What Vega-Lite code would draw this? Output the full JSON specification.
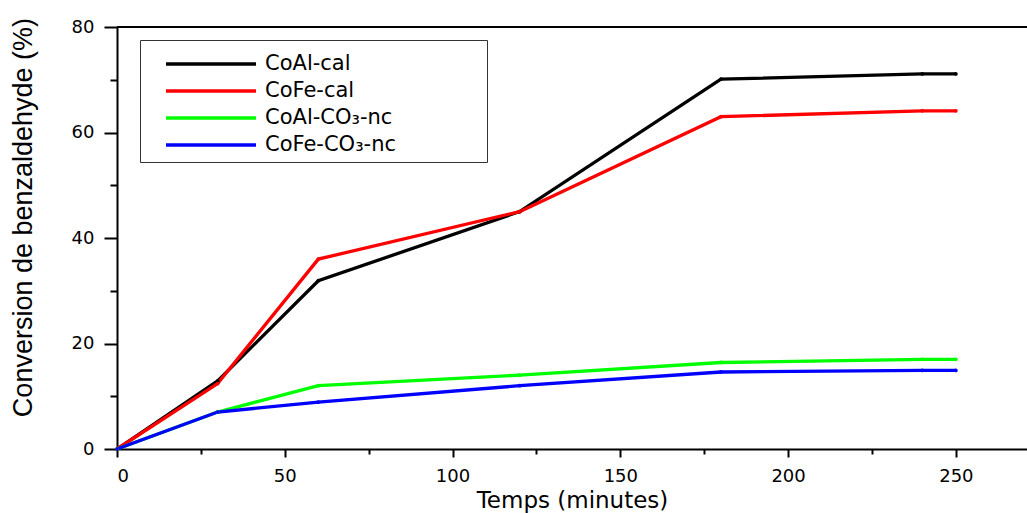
{
  "$schema": "https://vega.github.io/schema/vega-lite/v6.json",
  "autosize": "none",
  "width": 910,
  "height": 422,
  "padding": {"left": 117, "top": 27, "right": 0, "bottom": 64},
  "background": "white",
  "config": {"view": {"stroke": null}, "font": "Liberation Sans"},
  "data": {"values": [
    {"s": "CoAl-cal", "t": 0, "c": 0},
    {"s": "CoAl-cal", "t": 30, "c": 12.9},
    {"s": "CoAl-cal", "t": 60, "c": 31.9},
    {"s": "CoAl-cal", "t": 120, "c": 45},
    {"s": "CoAl-cal", "t": 180, "c": 70.1},
    {"s": "CoAl-cal", "t": 240, "c": 71.1},
    {"s": "CoAl-cal", "t": 250, "c": 71.1},
    {"s": "CoFe-cal", "t": 0, "c": 0},
    {"s": "CoFe-cal", "t": 30, "c": 12.4},
    {"s": "CoFe-cal", "t": 60, "c": 36},
    {"s": "CoFe-cal", "t": 120, "c": 45},
    {"s": "CoFe-cal", "t": 180, "c": 63},
    {"s": "CoFe-cal", "t": 240, "c": 64.1},
    {"s": "CoFe-cal", "t": 250, "c": 64.1},
    {"s": "CoAl-CO₃-nc", "t": 0, "c": 0},
    {"s": "CoAl-CO₃-nc", "t": 30, "c": 7},
    {"s": "CoAl-CO₃-nc", "t": 60, "c": 12},
    {"s": "CoAl-CO₃-nc", "t": 120, "c": 14},
    {"s": "CoAl-CO₃-nc", "t": 180, "c": 16.4},
    {"s": "CoAl-CO₃-nc", "t": 240, "c": 17},
    {"s": "CoAl-CO₃-nc", "t": 250, "c": 17},
    {"s": "CoFe-CO₃-nc", "t": 0, "c": 0},
    {"s": "CoFe-CO₃-nc", "t": 30, "c": 7},
    {"s": "CoFe-CO₃-nc", "t": 60, "c": 8.9},
    {"s": "CoFe-CO₃-nc", "t": 120, "c": 12},
    {"s": "CoFe-CO₃-nc", "t": 180, "c": 14.6},
    {"s": "CoFe-CO₃-nc", "t": 240, "c": 14.9},
    {"s": "CoFe-CO₃-nc", "t": 250, "c": 14.9}
  ]},
  "layer": [
    {
      "mark": {"type": "line", "strokeWidth": 3.3, "point": {"filled": true, "size": 14}},
      "encoding": {
        "x": {
          "field": "t", "type": "quantitative",
          "scale": {"domain": [0, 271.2], "nice": false, "zero": false},
          "axis": {
            "title": "Temps (minutes)",
            "values": [0, 25, 50, 75, 100, 125, 150, 175, 200, 225, 250],
            "labelExpr": "datum.value % 50 === 0 ? datum.label : ''",
            "tickSize": {"condition": {"test": "datum.value % 50 === 0", "value": 8}, "value": 5},
            "labelPadding": 10,
            "grid": false,
            "domainColor": "black", "domainWidth": 2,
            "tickColor": "black", "tickWidth": 2,
            "labelFont": "DejaVu Sans", "labelFontSize": 18, "labelColor": "black",
            "titleFont": "DejaVu Sans", "titleFontSize": 23, "titleFontWeight": "normal", "titleColor": "black",
            "titlePadding": 4
          }
        },
        "y": {
          "field": "c", "type": "quantitative",
          "scale": {"domain": [0, 80], "nice": false},
          "axis": {
            "title": "Conversion de benzaldehyde (%)",
            "values": [0, 10, 20, 30, 40, 50, 60, 70, 80],
            "labelExpr": "datum.value % 20 === 0 ? datum.label : ''",
            "tickSize": {"condition": {"test": "datum.value % 20 === 0", "value": 13}, "value": 7},
            "labelPadding": 10,
            "grid": false,
            "domainColor": "black", "domainWidth": 2,
            "tickColor": "black", "tickWidth": 2,
            "labelFont": "DejaVu Sans", "labelFontSize": 18, "labelColor": "black",
            "titleFont": "Liberation Sans", "titleFontSize": 27, "titleFontWeight": "normal", "titleColor": "black",
            "titlePadding": 34,
            "titleY": 190
          }
        },
        "color": {
          "field": "s", "type": "nominal",
          "scale": {"domain": ["CoAl-cal", "CoFe-cal", "CoAl-CO₃-nc", "CoFe-CO₃-nc"], "range": ["#000000", "#ff0000", "#00ff00", "#0000ff"]},
          "legend": {
            "title": "\u00a0",
            "titleOrient": "right",
            "titleFontSize": 10,
            "titlePadding": 84,
            "orient": "none",
            "legendX": 23,
            "legendY": 13,
            "symbolType": "M-3,0H3",
            "symbolSize": 900,
            "symbolStrokeWidth": 3.3,
            "symbolOffset": 47,
            "labelFont": "DejaVu Sans",
            "labelFontSize": 21,
            "labelColor": "black",
            "labelOffset": 37,
            "rowPadding": -8,
            "padding": 7,
            "strokeColor": "#333333",
            "fillColor": "white"
          }
        }
      }
    },
    {
      "mark": {"type": "rule", "color": "black", "strokeWidth": 2},
      "encoding": {"y": {"datum": 80}}
    }
  ]
}
